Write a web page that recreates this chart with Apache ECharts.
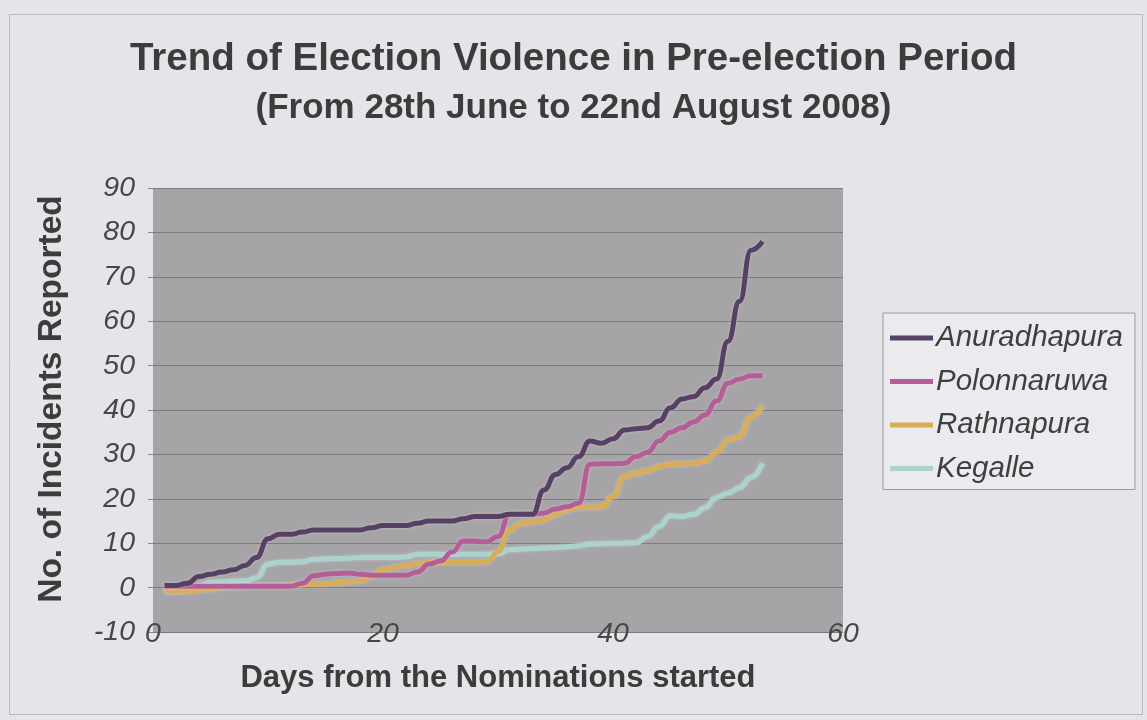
<!DOCTYPE html>
<html>
<head>
<meta charset="utf-8">
<script src="https://cdn.jsdelivr.net/npm/echarts@6/dist/echarts.min.js"></script>
<style>
html,body{margin:0;padding:0;background:#e5e4e9;}
#chart{width:1147px;height:720px;}
</style>
</head>
<body>
<div id="chart"></div>
<script>
var titleText = 'Trend of Election Violence in Pre-election Period';
var subtitleText = '(From 28th June to 22nd August 2008)';
var xAxisTitle = 'Days from the Nominations started';
var yAxisTitle = 'No. of Incidents Reported';
var seriesNames = ['Anuradhapura', 'Polonnaruwa', 'Rathnapura', 'Kegalle'];

var days = [1,2,3,4,5,6,7,8,9,10,11,12,13,14,15,16,17,18,19,20,21,22,23,24,25,26,27,28,29,30,31,32,33,34,35,36,37,38,39,40,41,42,43,44,45,46,47,48,49,50,51,52,53];

var anuradhapura = [0.5,0.5,1,2.5,3,3.5,4,5,6.8,11,12,12,12.5,13,13,13,13,13,13.5,14,14,14,14.5,15,15,15,15.5,16,16,16,16.5,16.5,16.5,22,25.5,27,29.5,33,32.5,33.5,35.5,35.8,36,37.5,40.5,42.5,43,45,47,55.5,64.5,76,78];
var polonnaruwa = [0.3,0.3,0.3,0.3,0.3,0.3,0.3,0.3,0.3,0.3,0.3,0.3,1,2.7,3,3.2,3.3,3,2.8,2.8,2.8,2.8,3.5,5.3,6,8,10.5,10.5,10.3,11.5,16.5,16.6,16.6,16.8,17.7,18.2,19,27.8,27.9,27.9,28,29.5,30.5,33,35,36,37.3,38.9,42,46,47,47.7,47.7];
var rathnapura = [-0.8,-0.8,-0.8,-0.6,-0.3,0,0.3,0.5,0.5,0.5,0.5,0.6,0.7,0.8,0.8,1.1,1.3,1.5,2.5,4,4.5,5,5.5,5.7,5.7,5.7,5.7,5.7,5.8,8,13,14.5,14.8,15.2,16.5,17.5,18.1,18.1,18.2,20.5,25,25.8,26.3,27.3,27.8,27.9,28,28.5,30.5,33.3,34,38.5,41];
var kegalle = [-0.8,-0.8,-0.5,0.5,1.2,1.3,1.5,1.5,2.2,5.3,5.7,5.7,5.8,6.4,6.5,6.5,6.6,6.8,6.8,6.8,6.8,6.9,7.5,7.5,7.5,7.5,7.5,7.5,7.5,7.6,8.5,8.7,8.8,8.9,9,9.2,9.4,9.8,9.9,10,10,10.1,11.5,13.8,16.2,16,16.5,18,20.3,21.3,22.5,24.8,28];

var colors = ['#574064', '#b55d96', '#d8ad55', '#a9d3cc'];
var allValues = [anuradhapura, polonnaruwa, rathnapura, kegalle];

var FONT = '"Liberation Sans", Arial, sans-serif';

function pairs(vals) {
  return days.map(function (d, i) { return [d, vals[i]]; });
}

var chart = echarts.init(document.getElementById('chart'), null, {renderer: 'canvas'});

var series = seriesNames.map(function (name, i) {
  return {
    name: name,
    type: 'line',
    data: pairs(allValues[i]),
    smooth: 0.5,
    smoothMonotone: 'x',
    showSymbol: false,
    symbol: 'none',
    lineStyle: {width: 5, color: colors[i], shadowColor: 'rgba(255,255,255,0.35)', shadowBlur: 3},
    itemStyle: {color: colors[i]},
    z: 10 - i
  };
});

var option = {
  backgroundColor: '#e5e4e9',
  animation: false,
  title: [
    {text: titleText, left: 'center', top: 35,
     textStyle: {fontFamily: FONT, fontSize: 38.5, fontWeight: 'bold', color: '#3c3c3c'}},
    {text: subtitleText, left: 'center', top: 86,
     textStyle: {fontFamily: FONT, fontSize: 35, fontWeight: 'bold', color: '#3c3c3c'}}
  ],
  grid: {left: 153, right: 304, top: 188, bottom: 88,
         show: true, backgroundColor: '#a6a4a7', borderWidth: 0},
  legend: {
    data: seriesNames,
    orient: 'vertical',
    left: 883, top: 313,
    backgroundColor: '#ebeaee',
    borderColor: '#9c9ba0', borderWidth: 1,
    padding: [10, 12, 6, 7],
    itemWidth: 43, itemHeight: 5, itemGap: 13.5,
    icon: 'rect',
    textStyle: {fontFamily: FONT, fontSize: 29.5, fontStyle: 'italic', color: '#3f3f3f', lineHeight: 29.5, padding: [0,0,0,-2]}
  },
  xAxis: {
    type: 'value', min: 0, max: 60, interval: 20,
    axisLine: {show: false}, axisTick: {show: false},
    splitLine: {show: false},
    axisLabel: {fontFamily: FONT, fontSize: 28.5, fontStyle: 'italic', color: '#474747', margin: -12}
  },
  yAxis: {
    type: 'value', min: -10, max: 90, interval: 10,
    axisLine: {show: false},
    axisTick: {show: true, length: 5, lineStyle: {color: '#8a898d'}},
    splitLine: {show: true, lineStyle: {color: '#7b7a7e', width: 1}},
    axisLabel: {fontFamily: FONT, fontSize: 28.5, fontStyle: 'italic', color: '#474747', margin: 18}
  },
  graphic: [
    {type: 'rect', left: 7, top: 12, shape: {width: 1133, height: 700},
     style: {fill: 'none', stroke: '#b9b8bd', lineWidth: 1}, silent: true, z: -1},
    {type: 'text', x: 52, y: 399, rotation: Math.PI / 2,
     style: {text: yAxisTitle, fontFamily: FONT, fontSize: 33.5, fontWeight: 'bold', fill: '#3c3c3c',
             textAlign: 'center', textVerticalAlign: 'middle'}},
    {type: 'text', x: 498, y: 678,
     style: {text: xAxisTitle, fontFamily: FONT, fontSize: 31, fontWeight: 'bold', fill: '#3c3c3c',
             textAlign: 'center', textVerticalAlign: 'middle'}}
  ],
  series: series
};
chart.setOption(option);
</script>
</body>
</html>
